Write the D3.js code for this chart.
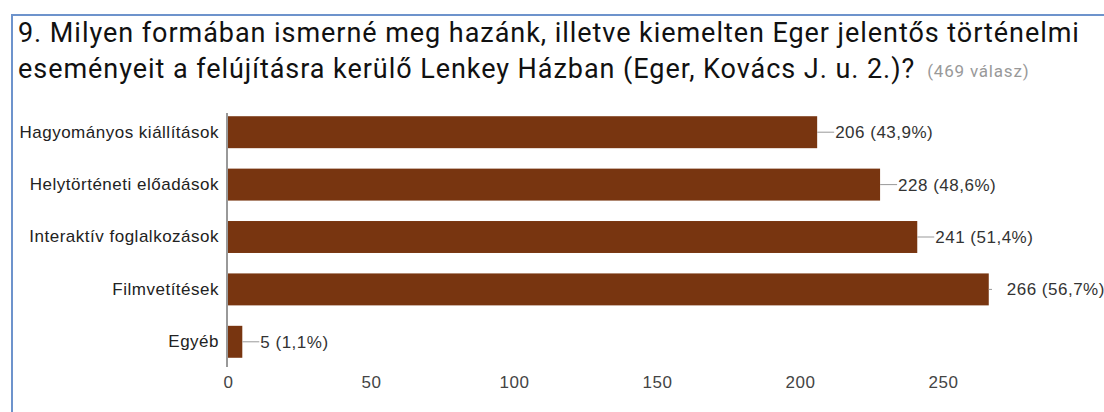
<!DOCTYPE html>
<html>
<head>
<meta charset="utf-8">
<script src="https://cdn.jsdelivr.net/npm/d3@7"></script>
<style>
  body { margin: 0; background: #fff; }
  svg { display: block; }
</style>
</head>
<body>
<div id="chart"></div>
<script>
// chart data
const categories = ["Hagyományos kiállítások", "Helytörténeti előadások", "Interaktív foglalkozások", "Filmvetítések", "Egyéb"];
const counts = [206, 228, 241, 266, 5];
const percents = ["43,9%", "48,6%", "51,4%", "56,7%", "1,1%"];
const xTicks = [0, 50, 100, 150, 200, 250];
const titleLines = ["9. Milyen formában ismerné meg hazánk, illetve kiemelten Eger jelentős történelmi",
  "eseményeit a felújításra kerülő Lenkey Házban (Eger, Kovács J. u. 2.)?"];
const answerNote = "(469 válasz)";

const width = 1104, height = 412;

const svg = d3.select("#chart")
  .append("svg")
  .attr("width", width)
  .attr("height", height);

// frame border (left + top)
svg.append("path")
  .attr("d", "M12,412 V15 H1104")
  .attr("fill", "none")
  .attr("stroke", "#6d93cc")
  .attr("stroke-width", 2);

// title
const title = svg.append("text")
  .attr("font-family", "Roboto, Arial, sans-serif")
  .attr("font-size", 27)
  .attr("letter-spacing", 0.95)
  .attr("fill", "#111");

title.append("tspan").attr("x", 18).attr("y", 42).text(titleLines[0]);
const line2 = title.append("tspan").attr("x", 18).attr("y", 78).text(titleLines[1]);

svg.append("text")
  .attr("x", 18 + line2.node().getComputedTextLength() + 12)
  .attr("y", 77)
  .attr("font-family", "Roboto, Arial, sans-serif")
  .attr("font-size", 17)
  .attr("letter-spacing", 0.8)
  .attr("fill", "#999")
  .text(answerNote);

// scales
const x = d3.scaleLinear()
  .domain([0, 250])
  .range([228, 943]);

const y = d3.scaleBand()
  .domain(categories)
  .range([106, 368])
  .paddingInner(0.39)
  .paddingOuter(0.195);

const font = "Arial, 'Liberation Sans', sans-serif";

// bars
svg.selectAll(".bar")
  .data(categories)
  .enter()
  .append("rect")
  .attr("class", "bar")
  .attr("x", x(0))
  .attr("y", d => y(d))
  .attr("width", (d, i) => x(counts[i]) - x(0))
  .attr("height", y.bandwidth())
  .attr("fill", "#783510");

// leader lines clipped to the plot area
svg.append("clipPath")
  .attr("id", "plot-clip")
  .append("rect")
  .attr("x", 228).attr("y", 100)
  .attr("width", 764).attr("height", 280);

svg.append("g")
  .attr("clip-path", "url(#plot-clip)")
  .selectAll("line")
  .data(categories)
  .enter()
  .append("line")
  .attr("x1", (d, i) => x(counts[i]))
  .attr("x2", (d, i) => x(counts[i]) + 17)
  .attr("y1", d => y(d) + y.bandwidth() / 2)
  .attr("y2", d => y(d) + y.bandwidth() / 2)
  .attr("stroke", "#999")
  .attr("stroke-width", 1);

// value labels
svg.selectAll(".val")
  .data(categories)
  .enter()
  .append("text")
  .attr("class", "val")
  .attr("x", (d, i) => x(counts[i]) + 18)
  .attr("y", d => y(d) + y.bandwidth() / 2)
  .attr("dy", "0.35em")
  .attr("font-family", font)
  .attr("font-size", 17)
  .attr("letter-spacing", 0.5)
  .attr("fill", "#333")
  .text((d, i) => counts[i] + " (" + percents[i] + ")");

// category axis
const yAxis = svg.append("g")
  .attr("transform", "translate(228,0)")
  .call(d3.axisLeft(y).tickSize(0).tickPadding(9));
yAxis.select(".domain").remove();
yAxis.selectAll("text")
  .attr("font-family", font)
  .attr("font-size", 17)
  .attr("letter-spacing", 0.5)
  .attr("fill", "#222");

// vertical baseline
svg.append("line")
  .attr("x1", x(0) - 1).attr("x2", x(0) - 1)
  .attr("y1", 113).attr("y2", 367)
  .attr("stroke", "#999")
  .attr("stroke-width", 2);

// value axis
const xAxis = svg.append("g")
  .attr("transform", "translate(0,376)")
  .call(d3.axisBottom(x).tickValues(xTicks).tickSize(0).tickPadding(0));
xAxis.select(".domain").remove();
xAxis.selectAll("text")
  .attr("font-family", font)
  .attr("font-size", 17)
  .attr("letter-spacing", 0.5)
  .attr("fill", "#444");
</script>
</body>
</html>
